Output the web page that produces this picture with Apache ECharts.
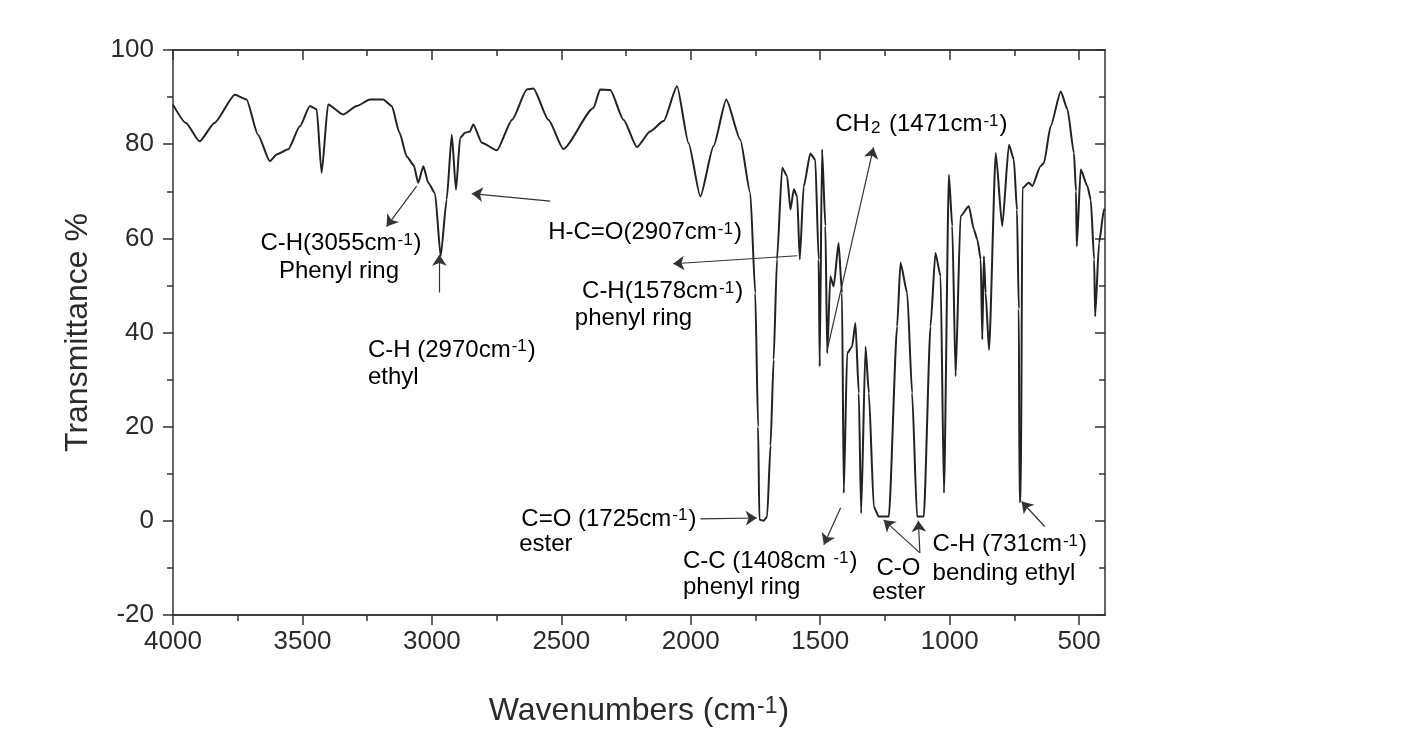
<!DOCTYPE html>
<html>
<head>
<meta charset="utf-8">
<script src="https://cdn.jsdelivr.net/npm/echarts@6/dist/echarts.min.js"></script>
<style>
  html, body { margin: 0; background: #fff; }
  #chart { width: 1412px; height: 740px; }
</style>
</head>
<body>
<div id="chart"></div>
<script>
// spectrum
var wavenumbers = [
  4000, 3950, 3897, 3840, 3761, 3716, 3672, 3626, 3600, 3555, 3510, 3471, 3445, 3426, 3401,
  3343, 3290, 3239, 3188, 3155, 3125, 3097, 3070, 3053, 3033, 3014, 2988, 2966, 2943, 2923,
  2907, 2891, 2872, 2853, 2840, 2807, 2749, 2690, 2633, 2608, 2550, 2492, 2376, 2350, 2311,
  2260, 2208, 2157, 2105, 2053, 2009, 1963, 1912, 1863, 1809, 1770, 1751, 1740, 1735, 1719,
  1705, 1692, 1680, 1667, 1647, 1628, 1615, 1602, 1589, 1579, 1564, 1538, 1519, 1506, 1502,
  1493, 1480, 1473, 1461, 1448, 1429, 1416, 1409, 1396, 1377, 1364, 1351, 1342, 1325, 1312,
  1293, 1274, 1235, 1203, 1190, 1164, 1145, 1126, 1100, 1074, 1055, 1035, 1022, 1003, 990,
  977, 958, 926, 906, 893, 880, 874, 868, 861, 848, 822, 797, 771, 752, 740,
  733, 730, 725, 719, 694, 681, 649, 636, 610, 571, 545, 520, 512, 509, 494,
  468, 455, 442, 438, 423, 404, 400
];
var transmittance = [
  88.4, 84.5, 80.6, 84.5, 90.5, 89.5, 82.0, 76.4, 77.8, 78.9, 83.8, 88.1, 87.4, 73.9, 88.4,
  86.3, 88.1, 89.5, 89.5, 88.1, 82.4, 77.4, 75.5, 71.8, 75.3, 71.8, 69.6, 56.2, 68.2, 82.0,
  70.3, 81.3, 82.4, 82.7, 84.2, 80.3, 78.7, 85.2, 91.6, 91.8, 85.2, 79.0, 87.7, 91.6, 91.5,
  85.2, 79.4, 82.7, 84.9, 92.3, 80.3, 68.9, 79.6, 89.5, 81.0, 69.6, 48.4, 20.0, 0.3, 0.0,
  0.9, 16.0, 34.2, 55.5, 75.0, 73.2, 66.1, 70.4, 68.9, 55.5, 71.0, 78.0, 76.7, 55.5, 32.8,
  78.9, 62.6, 35.6, 51.9, 49.8, 59.0, 48.4, 5.9, 35.6, 37.0, 42.0, 27.1, 1.6, 37.0, 27.1,
  3.0, 0.9, 0.9, 41.3, 54.8, 48.4, 27.1, 0.9, 0.9, 41.3, 56.9, 51.9, 5.9, 73.5, 62.6,
  30.7, 64.7, 66.8, 61.8, 59.7, 55.5, 38.5, 56.2, 48.4, 36.3, 78.1, 62.6, 79.9, 76.7, 66.0,
  45.0, 4.0, 4.5, 70.7, 71.8, 71.1, 75.3, 76.0, 83.8, 91.2, 87.4, 78.1, 70.0, 58.3, 74.6,
  71.1, 68.2, 55.5, 43.4, 59.0, 66.1, 66.0
];

var majorTicks = [500, 1000, 1500, 2000, 2500, 3000, 3500, 4000];
var minorTicks = [750, 1250, 1750, 2250, 2750, 3250, 3750];

// [text, wavenumber, transmittance, align]
var notes = [
  ['C-H(3055cm^-1)', 3351, 58.9, 'center'],
  ['Phenyl ring', 3359, 52.9, 'center'],
  ['C-H (2970cm^-1)', 3247, 36.3, 'left'],
  ['ethyl', 3247, 30.4, 'left'],
  ['H-C=O(2907cm^-1)', 2551, 61.2, 'left'],
  ['C-H(1578cm^-1)', 2420, 48.7, 'left'],
  ['phenyl ring', 2448, 43.1, 'left'],
  ['CH_2 (1471cm^-1)', 1442, 84.2, 'left'],
  ['C=O (1725cm^-1)', 1978, 0.4, 'right'],
  ['ester', 2663, -5.1, 'left'],
  ['C-C (1408cm ^-1)', 2030, -8.7, 'left'],
  ['phenyl ring', 2030, -14.2, 'left'],
  ['C-O', 1283, -10.2, 'left'],
  ['ester', 1299, -15.1, 'left'],
  ['C-H (731cm^-1)', 1066, -5.1, 'left'],
  ['bending ethyl', 1066, -11.1, 'left']
];

// arrows: from -> to (head)
var arrows = [
  [[3059, 71.1], [3175, 62.5]],
  [[2971, 48.5], [2971, 56.5]],
  [[2543, 67.9], [2846, 69.5]],
  [[1589, 56.3], [2068, 54.6]],
  [[1473, 36.3], [1294, 79.3]],
  [[1963, 0.4], [1745, 0.6]],
  [[1421, 2.8], [1486, -5.1]],
  [[1115, -6.8], [1255, 0.2]],
  [[1115, -6.8], [1121, 0.0]],
  [[633, -1.2], [722, 4.1]]
];

var FONT = '"Liberation Sans", Arial, sans-serif';
var INK = '#2b2b2b';

function richText(size) {
  var small = Math.round(size * 0.72);
  return {
    a: { fontSize: size, fontFamily: FONT, color: INK },
    s: { fontSize: small, fontFamily: FONT, color: INK, verticalAlign: 'top', padding: [0, 1, 0, 1] },
    b: { fontSize: small, fontFamily: FONT, color: INK, verticalAlign: 'bottom', padding: [0, 2, 0, 1] }
  };
}
function markup(t) {
  return '{a|' + t.replace(/\^(-1)/g, '}{s|$1}{a|').replace(/_(2)/g, '}{b|$1}{a|') + '}';
}

var chart = echarts.init(document.getElementById('chart'));

var axisLine = { show: true, onZero: false, lineStyle: { color: '#333', width: 1.5 } };
function plain(v) { return String(v); }

function xAx(pos, ticks, len, inside, labels) {
  return {
    type: 'value', min: 400, max: 4000, inverse: true, position: pos,
    axisLine: axisLine,
    axisTick: { show: true, inside: inside, length: len, customValues: ticks, lineStyle: { color: '#333', width: 1.5 } },
    axisLabel: labels ? { show: true, customValues: ticks, formatter: plain, fontSize: 26, fontFamily: FONT, color: INK, margin: 14 } : { show: false },
    splitLine: { show: false }
  };
}

var xBottom = xAx('bottom', majorTicks, 10, false, true);
xBottom.name = markup('Wavenumbers (cm^-1)');
xBottom.nameLocation = 'middle';
xBottom.nameGap = 80;
xBottom.nameTextStyle = { rich: richText(32) };

function yAx(pos, inside, labels) {
  return {
    type: 'value', min: -20, max: 100, interval: 20, position: pos,
    axisLine: axisLine,
    axisTick: { show: true, inside: inside, length: 10, lineStyle: { color: '#333', width: 1.5 } },
    minorTick: { show: true, splitNumber: 2, length: 6, lineStyle: { color: '#333', width: 1.5 } },
    axisLabel: labels ? { show: true, formatter: plain, fontSize: 26, fontFamily: FONT, color: INK, margin: 19 } : { show: false },
    splitLine: { show: false }
  };
}
var yLeft = yAx('left', false, true);
yLeft.name = 'Transmittance %';
yLeft.nameLocation = 'middle';
yLeft.nameRotate = 90;
yLeft.nameGap = 79;
yLeft.nameTextStyle = { fontSize: 32, fontFamily: FONT, color: INK };

var option = {
  animation: false,
  backgroundColor: '#fff',
  grid: { left: 173, right: 307, top: 50, bottom: 125 },
  xAxis: [
    xBottom,
    xAx('bottom', minorTicks, 6, false, false),
    xAx('top', majorTicks, 10, true, false),
    xAx('top', minorTicks, 6, true, false)
  ],
  yAxis: [yLeft, yAx('right', true, false)],
  series: [{
    type: 'line',
    xAxisIndex: 0,
    yAxisIndex: 0,
    showSymbol: false,
    smooth: 0.2,
    smoothMonotone: 'x',
    lineStyle: { color: '#222', width: 2 },
    data: wavenumbers.map(function (w, i) { return [w, transmittance[i]]; }),
    markLine: {
      silent: true,
      symbol: ['none', 'arrow'],
      symbolSize: 11,
      label: { show: false },
      lineStyle: { color: '#333', width: 1.2, type: 'solid' },
      itemStyle: { color: '#333' },
      data: arrows.map(function (a) { return [{ coord: a[0] }, { coord: a[1] }]; })
    }
  }]
};
chart.setOption(option);

var graphics = notes.map(function (n) {
  var p = chart.convertToPixel({ xAxisIndex: 0, yAxisIndex: 0 }, [n[1], n[2]]);
  return {
    type: 'text', x: p[0], y: p[1], silent: true,
    style: {
      text: markup(n[0]), rich: richText(24),
      textAlign: n[3], textVerticalAlign: 'middle'
    }
  };
});
chart.setOption({ graphic: graphics });
</script>
</body>
</html>
